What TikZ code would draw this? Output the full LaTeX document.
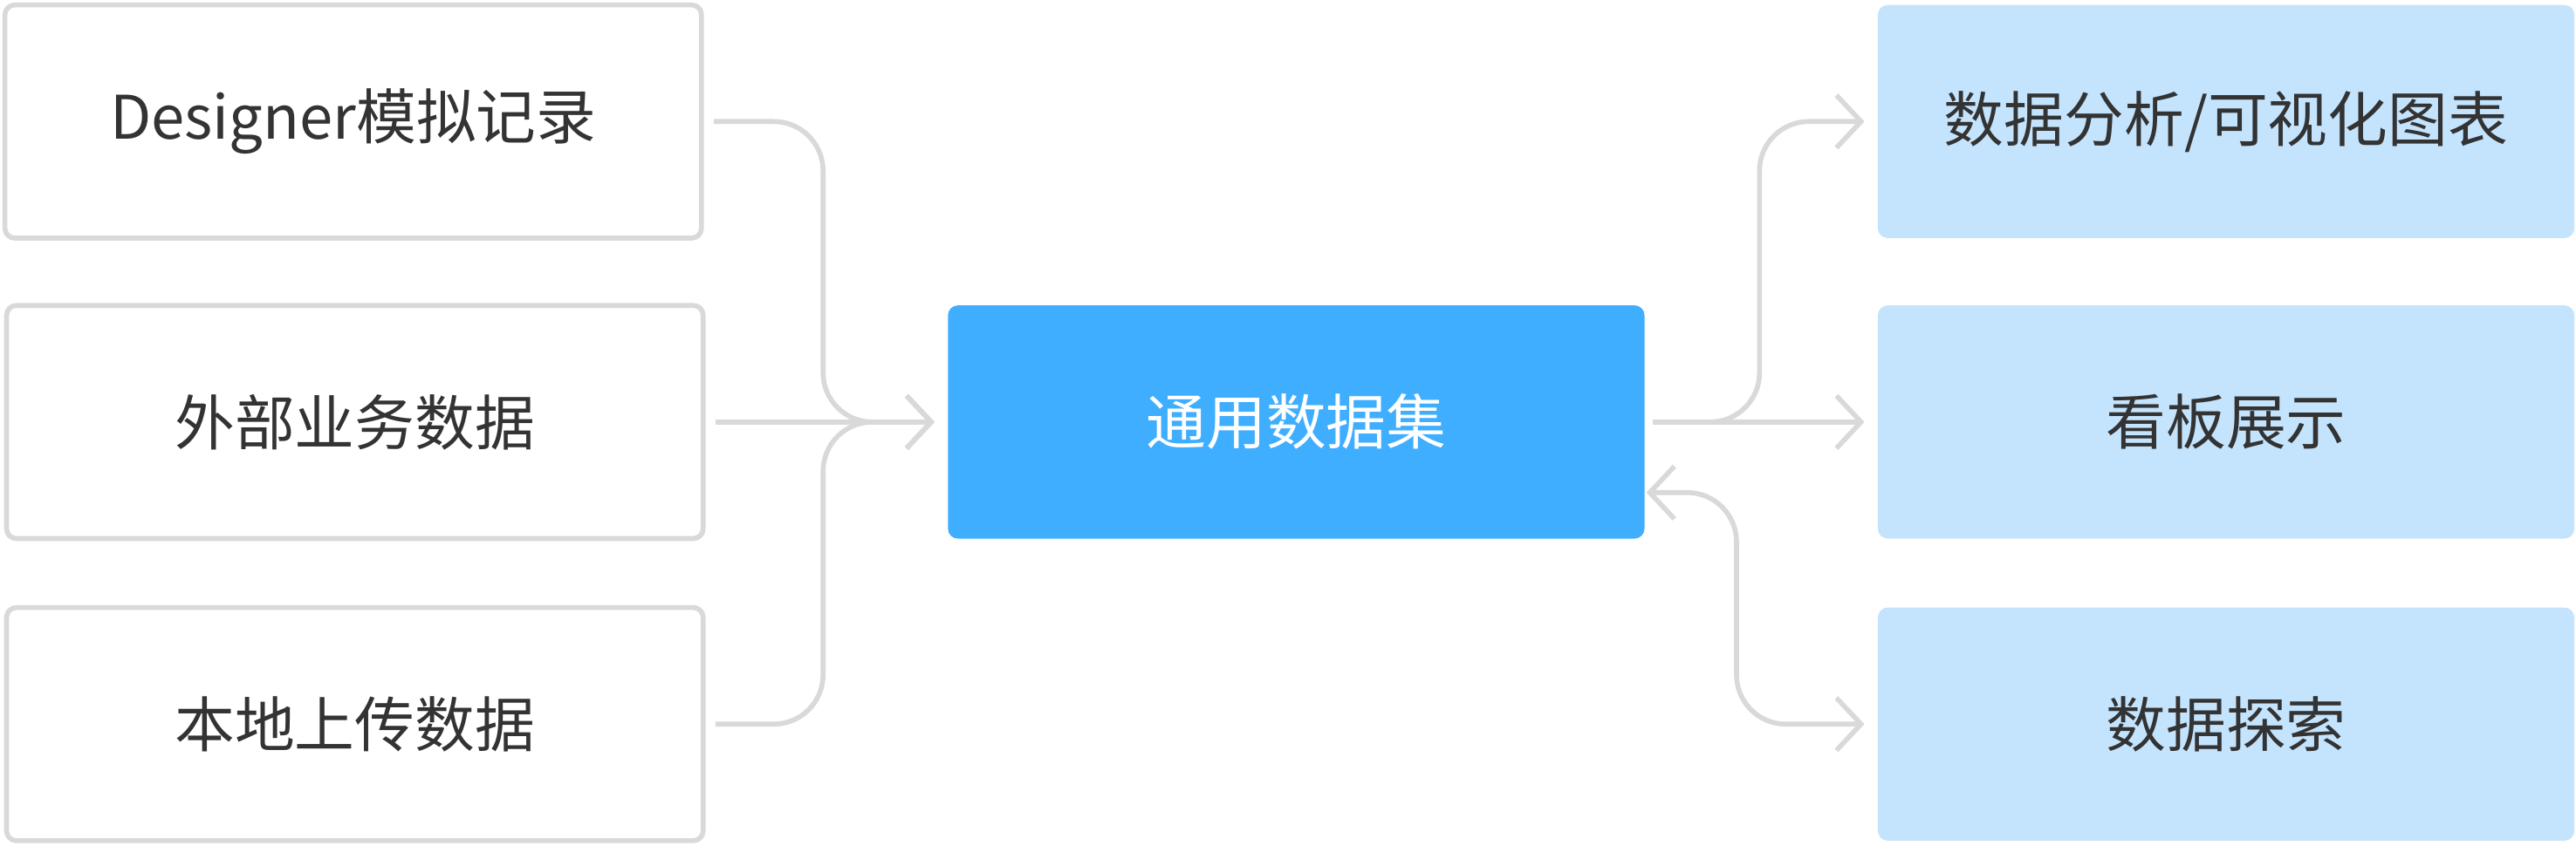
\documentclass[tikz,border=0pt]{standalone}
\usepackage{fontspec}
\setmainfont{Noto Sans CJK SC}
\usetikzlibrary{arrows.meta}
\definecolor{line}{HTML}{D9D9D9}
\definecolor{main}{HTML}{40AEFF}
\definecolor{light}{HTML}{C4E4FE}
\definecolor{ink}{HTML}{333333}

\begin{document}
\begin{tikzpicture}[x=0.05cm,y=-0.05cm,
  box/.style={minimum width=21.2cm,minimum height=7.1cm,rounded corners=0.3cm,
    text=ink,font=\fontsize{52}{60}\selectfont,inner sep=0pt},
  src/.style={box,draw=line,line width=0.15cm,fill=white},
  use/.style={box,fill=light},
  conn/.style={draw=line,line width=0.15cm,rounded corners=1.5cm,
    -{Straight Barb[length=0.75cm,width=1.6cm,line width=0.15cm]},shorten >=0.4cm}]

\useasboundingbox (0,0) rectangle (1568,515);

\node[src] (d1) at (215,74) {Designer模拟记录};
\node[src] (d2) at (216,257) {外部业务数据};
\node[src] (d3) at (216,441) {本地上传数据};
\node[box,fill=main,text=white] (c) at (789,257) {通用数据集};
\node[use] (r1) at (1355,74) {数据分析/可视化图表};
\node[use] (r2) at (1355,257) {看板展示};
\node[use] (r3) at (1355,441) {数据探索};

\coordinate (jl) at (501,257);
\coordinate (jr) at (1071,74);
\coordinate (jb) at (1057,441);

\draw[conn,shorten <=0.3cm] (d1.east) -| (jl) -- (c.west);
\draw[conn,shorten <=0.3cm] (d2.east) -- (c.west);
\draw[conn,shorten <=0.3cm] (d3.east) -| (jl) -- (c.west);
\draw[conn,shorten <=0.25cm] (c.east) -| (jr) -- (r1.west);
\draw[conn,shorten <=0.25cm] (c.east) -- (r2.west);
\draw[conn,{Straight Barb[length=0.75cm,width=1.6cm,line width=0.15cm]}-{Straight Barb[length=0.75cm,width=1.6cm,line width=0.15cm]},shorten <=0.05cm]
  ([yshift=-2.15cm]c.east) -| (jb) -- (r3.west);

\end{tikzpicture}
\end{document}
